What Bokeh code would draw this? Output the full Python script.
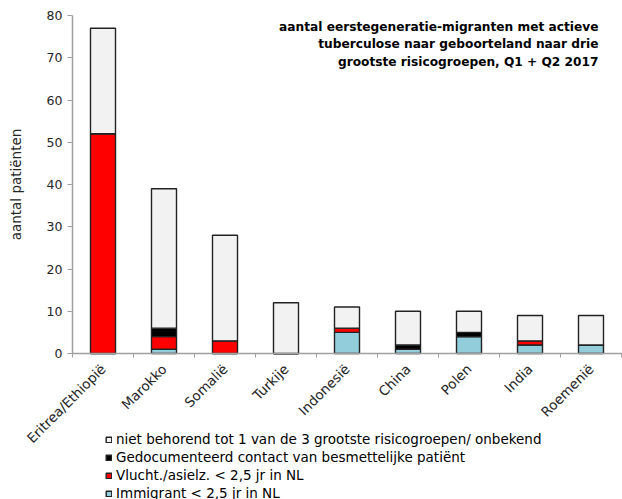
import math
from bokeh.plotting import figure
from bokeh.models import Range1d, FixedTicker, Legend, LegendItem, ColumnDataSource
from bokeh.core.properties import value
from bokeh.embed import file_html
from bokeh.resources import INLINE

countries = ["Eritrea/Ethiopië", "Marokko", "Somalië", "Turkije", "Indonesië",
             "China", "Polen", "India", "Roemenië"]
immigrant = [0, 1, 0, 0, 5, 1, 4, 2, 2]
vlucht = [52, 3, 3, 0, 1, 0, 0, 1, 0]
contact = [0, 2, 0, 0, 0, 1, 1, 0, 0]
niet = [25, 33, 25, 12, 5, 8, 5, 6, 7]

series_keys = ["immigrant", "vlucht", "contact", "niet"]
series_labels = ["Immigrant < 2,5 jr in NL",
                 "Vlucht./asielz. < 2,5 jr in NL",
                 "Gedocumenteerd contact van besmettelijke patiënt",
                 "niet behorend tot 1 van de 3 grootste risicogroepen/ onbekend"]
series_colors = ["#92CDDC", "#FF0000", "#000000", "#F2F2F2"]

title_lines = ["aantal eerstegeneratie-migranten met actieve",
               "tuberculose naar geboorteland naar drie",
               "grootste risicogroepen, Q1 + Q2 2017"]
y_label = "aantal patiënten"
y_ticks = [0, 10, 20, 30, 40, 50, 60, 70, 80]

FONT = "DejaVu Sans"

xpos = [i + 0.5 for i in range(len(countries))]
src = ColumnDataSource(dict(x=xpos, immigrant=immigrant, vlucht=vlucht,
                            contact=contact, niet=niet))

W, H = 622, 499
# frame covers the whole canvas; axes are fixed at x=0 / y=0
p = figure(width=W, height=H, output_backend="svg", toolbar_location=None,
           x_range=Range1d(-72 / 61, 550 / 61),
           y_range=Range1d(-146 / 4.225, 353 / 4.225),
           min_border_left=0, min_border_right=0, min_border_top=0,
           min_border_bottom=0)
p.outline_line_color = None
p.xgrid.visible = False
p.ygrid.visible = False
p.background_fill_color = "white"
p.border_fill_color = "white"

rs = p.vbar_stack(series_keys, x="x", width=0.41, source=src,
                  fill_color=series_colors, line_color="#222222", line_width=1.4)

AX = "#A0A0A0"
TXT = "#262626"

# x axis
xa = p.xaxis[0]
xa.fixed_location = 0
xa.bounds = (0, len(countries) + 0.02)
xa.ticker = FixedTicker(ticks=xpos, minor_ticks=list(range(0, len(countries) + 1)))
xa.major_label_overrides = {x: c for x, c in zip(xpos, countries)}
xa.major_tick_out = 0
xa.major_tick_in = 0
xa.minor_tick_out = 4
xa.minor_tick_in = 0
xa.minor_tick_line_color = AX
xa.axis_line_color = AX
xa.axis_line_width = 1.5
xa.major_label_orientation = math.pi / 4
xa.major_label_text_font = FONT
xa.major_label_text_font_size = "13.5px"
xa.major_label_text_color = TXT
xa.major_label_standoff = 9

# y axis
ya = p.yaxis[0]
ya.fixed_location = 0
ya.bounds = (0, 80)
ya.ticker = FixedTicker(ticks=y_ticks, minor_ticks=[])
ya.major_tick_out = 5
ya.major_tick_in = 0
ya.major_tick_line_color = AX
ya.axis_line_color = AX
ya.axis_line_width = 1.5
ya.major_label_text_font = FONT
ya.major_label_text_font_size = "12.5px"
ya.major_label_text_color = TXT
ya.major_label_standoff = 5
ya.axis_label = y_label
ya.axis_label_text_font = FONT
ya.axis_label_text_font_size = "13.5px"
ya.axis_label_text_font_style = "normal"
ya.axis_label_text_color = TXT
ya.axis_label_standoff = 20

# title
p.text(x=[8.623] * 3, y=[77.16, 73.14, 69.11], text=title_lines,
       text_align="right", text_baseline="middle",
       text_font=value(FONT), text_font_style="bold",
       text_font_size="12.2px", text_color="#000000")

# legend
items = [LegendItem(label=series_labels[i], renderers=[rs[i]]) for i in [3, 2, 1, 0]]
legend = Legend(items=items, location=(105, -2), orientation="vertical",
                padding=0, margin=0, spacing=2, label_height=16,
                glyph_height=7, glyph_width=7, label_standoff=4,
                label_text_font=FONT, label_text_font_size="13.5px",
                label_text_color="#000000",
                border_line_color=None, background_fill_alpha=0)
p.add_layout(legend, "center")

open("out.html", "w").write(file_html(p, INLINE))
